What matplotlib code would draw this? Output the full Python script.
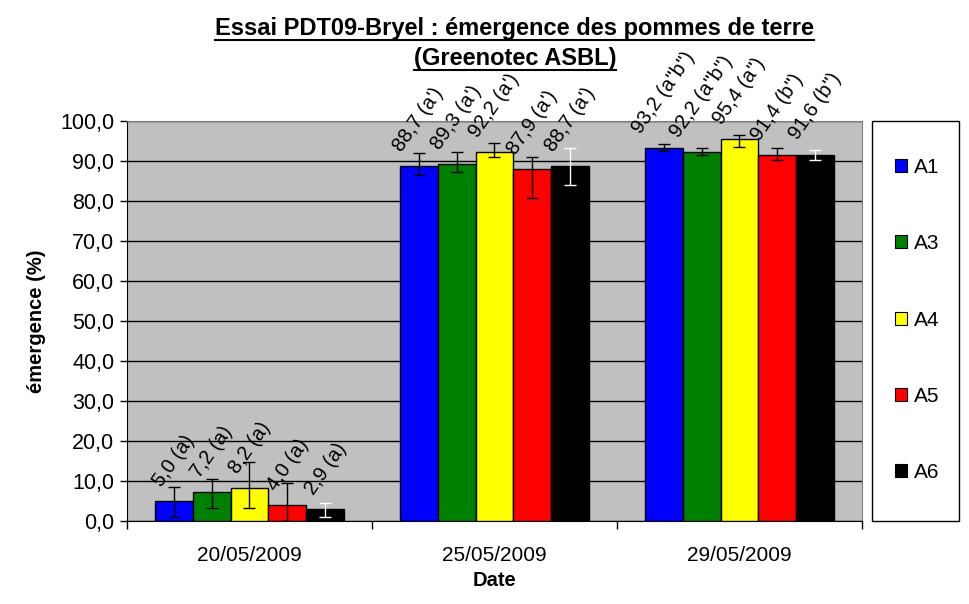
import numpy as np
import matplotlib
matplotlib.use('Agg')
import matplotlib.pyplot as plt
from matplotlib.lines import Line2D
from matplotlib.patches import Rectangle, Patch

plt.rcParams['font.family'] = ['Liberation Sans', 'DejaVu Sans']

# donnees
dates = ['20/05/2009', '25/05/2009', '29/05/2009']
series = ['A1', 'A3', 'A4', 'A5', 'A6']
colors = ['#0000FF', '#008000', '#FFFF00', '#FF0000', '#000000']
err_colors = ['black', 'black', 'black', 'black', 'white']

A1 = [5.0, 88.7, 93.2]
A3 = [7.2, 89.3, 92.2]
A4 = [8.2, 92.2, 95.4]
A5 = [4.0, 87.9, 91.4]
A6 = [2.9, 88.7, 91.6]
values = [A1, A3, A4, A5, A6]

lettres_A1 = ['(a)', "(a')", '(a"b")']
lettres_A3 = ['(a)', "(a')", '(a"b")']
lettres_A4 = ['(a)', "(a')", '(a")']
lettres_A5 = ['(a)', "(a')", '(b")']
lettres_A6 = ['(a)', "(a')", '(b")']
lettres = [lettres_A1, lettres_A3, lettres_A4, lettres_A5, lettres_A6]

# erreurs (bas, haut)
err_low = [[4.0, 2.2, 0.7], [4.0, 2.1, 0.8], [5.0, 1.1, 2.0], [4.0, 7.2, 1.2], [1.9, 4.8, 1.4]]
err_high = [[3.5, 3.3, 1.1], [3.3, 2.9, 1.1], [6.5, 2.2, 1.2], [5.5, 3.2, 1.9], [1.6, 4.6, 1.2]]

W, H = 970, 604
fig = plt.figure(figsize=(W / 100, H / 100), dpi=100)
ax = fig.add_axes([127 / W, 1 - 521 / H, (862 - 127) / W, (521 - 121) / H])
ax.set_facecolor('#C0C0C0')

x = np.arange(len(dates))
bw = 0.155
for i, s in enumerate(series):
    pos = x + (i - 2) * bw
    ax.bar(pos, values[i], bw, color=colors[i], edgecolor='black', linewidth=1, zorder=3, label=s)
    ax.errorbar(pos, values[i], yerr=[err_low[i], err_high[i]], fmt='none',
                ecolor=err_colors[i], elinewidth=1, capsize=4, capthick=1, zorder=4)
    for p, v, l in zip(pos, values[i], lettres[i]):
        txt = f'{v:.1f}'.replace('.', ',') + ' ' + l
        ax.annotate(txt, (p, v), xytext=(0, 8), textcoords='offset points',
                    ha='center', va='bottom', rotation=55, fontsize=14.5,
                    annotation_clip=False, zorder=5)

ax.set_xlim(-0.5, 2.5)
ax.set_ylim(0, 100)
ax.set_yticks(np.arange(0, 101, 10))
ax.set_yticklabels([f'{t:.1f}'.replace('.', ',') for t in np.arange(0, 101, 10)], fontsize=15.5)
ax.yaxis.grid(True, color='black', linewidth=1, zorder=0)
ax.set_axisbelow(True)
ax.tick_params(axis='y', length=5, width=1, pad=4, color='black')

ax.set_xticks([-0.5, 0.5, 1.5, 2.5])
ax.set_xticklabels([])
ax.set_xticks(x, minor=True)
ax.set_xticklabels(dates, minor=True, fontsize=15)
ax.tick_params(axis='x', which='major', length=6, width=1)
ax.tick_params(axis='x', which='minor', length=0, pad=18)

for sp in ['top', 'right']:
    ax.spines[sp].set_color('#808080')
for sp in ['left', 'bottom']:
    ax.spines[sp].set_color('black')

ax.set_ylabel('émergence (%)', fontsize=14.5, fontweight='bold', labelpad=10)
ax.set_xlabel('Date', fontsize=14.5, fontweight='bold', labelpad=4)

# titre souligne
t1 = fig.text(515 / W, 1 - 29 / H, 'Essai PDT09-Bryel : émergence des pommes de terre',
              ha='center', va='center', fontsize=17, fontweight='bold')
t2 = fig.text(515 / W, 1 - 59 / H, '(Greenotec ASBL)',
              ha='center', va='center', fontsize=17, fontweight='bold')

# legende
fig.add_artist(Rectangle((872 / W, 1 - 521 / H), (959 - 872) / W, 400 / H,
                         transform=fig.transFigure, facecolor='white', edgecolor='black', linewidth=1))
handles = [Patch(facecolor=c, edgecolor='black', linewidth=0.8) for c in colors]
fig.legend(handles, series, loc='center', bbox_to_anchor=(917 / W, 1 - 320 / H),
           frameon=False, fontsize=15, handlelength=0.6, handleheight=0.6,
           handletextpad=0.3, labelspacing=2.75)

fig.canvas.draw()
r = fig.canvas.get_renderer()
for t in (t1, t2):
    bb = t.get_window_extent(r)
    y = bb.y0 + 1
    fig.add_artist(Line2D([bb.x0 / W, bb.x1 / W], [y / H, y / H], transform=fig.transFigure,
                          color='black', linewidth=1.5))

fig.savefig('out.png', dpi=100)
